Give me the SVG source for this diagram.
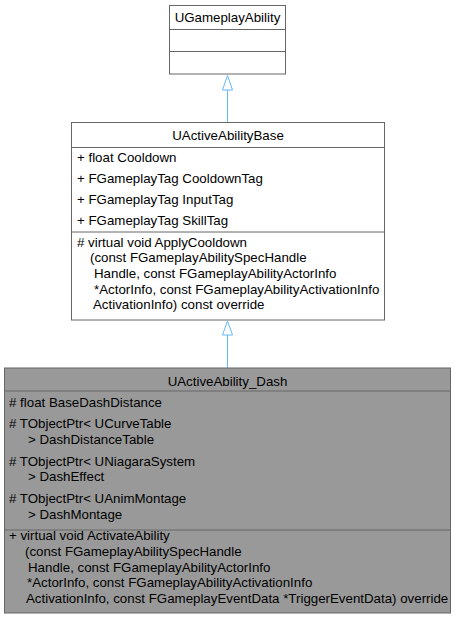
<svg xmlns="http://www.w3.org/2000/svg" width="456" height="619" viewBox="0 0 456 619">
<style>
text{font-family:"Liberation Sans",Arial,sans-serif;font-size:13.3px;fill:#000}
.c{text-anchor:middle}
.box{fill:#fff;stroke:#666;stroke-width:1}
.sel{fill:#999;stroke:#666;stroke-width:1}
.sep{stroke:#666;stroke-width:1;fill:none}
.edge{stroke:#63b8ff;stroke-width:1;fill:none}
.head{fill:#fff;stroke:#63b8ff;stroke-width:1}
</style>
<rect width="456" height="619" fill="#fff"/>
<g id="connectors">
<path class="edge" d="M227.5,90 V122"/>
<polygon class="head" points="227.5,75.5 222.5,90 232.5,90"/>
<path class="edge" d="M227.5,335 V368"/>
<polygon class="head" points="227.5,321 222.5,335 232.5,335"/>
</g>
<g id="UGameplayAbility">
<rect class="box" x="169.5" y="5.5" width="116" height="68.5"/>
<path class="sep" d="M169.5,29.5 H285.5 M169.5,51.5 H285.5"/>
<text class="c" x="227.5" y="21.5">UGameplayAbility</text>
</g>
<g id="UActiveAbilityBase">
<rect class="box" x="71.5" y="122.5" width="313" height="197.5"/>
<path class="sep" d="M71.5,147.5 H384.5 M71.5,232 H384.5"/>
<text class="c" x="228" y="139.5">UActiveAbilityBase</text>
<text x="77" y="161.5">+ float Cooldown</text>
<text x="77" y="182.8">+ FGameplayTag CooldownTag</text>
<text x="77" y="204.1">+ FGameplayTag InputTag</text>
<text x="77" y="225.4">+ FGameplayTag SkillTag</text>
<text x="77" y="246.5"># virtual void ApplyCooldown</text>
<text x="90" y="262.2">(const FGameplayAbilitySpecHandle</text>
<text x="94" y="277.9">Handle, const FGameplayAbilityActorInfo</text>
<text x="94" y="293.6">*ActorInfo, const FGameplayAbilityActivationInfo</text>
<text x="93" y="309.3">ActivationInfo) const override</text>
</g>
<g id="UActiveAbility_Dash">
<rect class="sel" x="4.5" y="368" width="446" height="245"/>
<path class="sep" d="M4.5,391 H450.5 M4.5,530 H450.5"/>
<text class="c" x="227.5" y="385.5">UActiveAbility_Dash</text>
<text x="9" y="407"># float BaseDashDistance</text>
<text x="9" y="428"># TObjectPtr&lt; UCurveTable</text>
<text x="28" y="443.7">&gt; DashDistanceTable</text>
<text x="9" y="465.7"># TObjectPtr&lt; UNiagaraSystem</text>
<text x="28" y="481.4">&gt; DashEffect</text>
<text x="9" y="503.3"># TObjectPtr&lt; UAnimMontage</text>
<text x="28" y="519">&gt; DashMontage</text>
<text x="9" y="540.3">+ virtual void ActivateAbility</text>
<text x="25" y="556">(const FGameplayAbilitySpecHandle</text>
<text x="28" y="571.7">Handle, const FGameplayAbilityActorInfo</text>
<text x="27" y="587.4">*ActorInfo, const FGameplayAbilityActivationInfo</text>
<text x="26" y="603.1">ActivationInfo, const FGameplayEventData *TriggerEventData) override</text>
</g>
</svg>
